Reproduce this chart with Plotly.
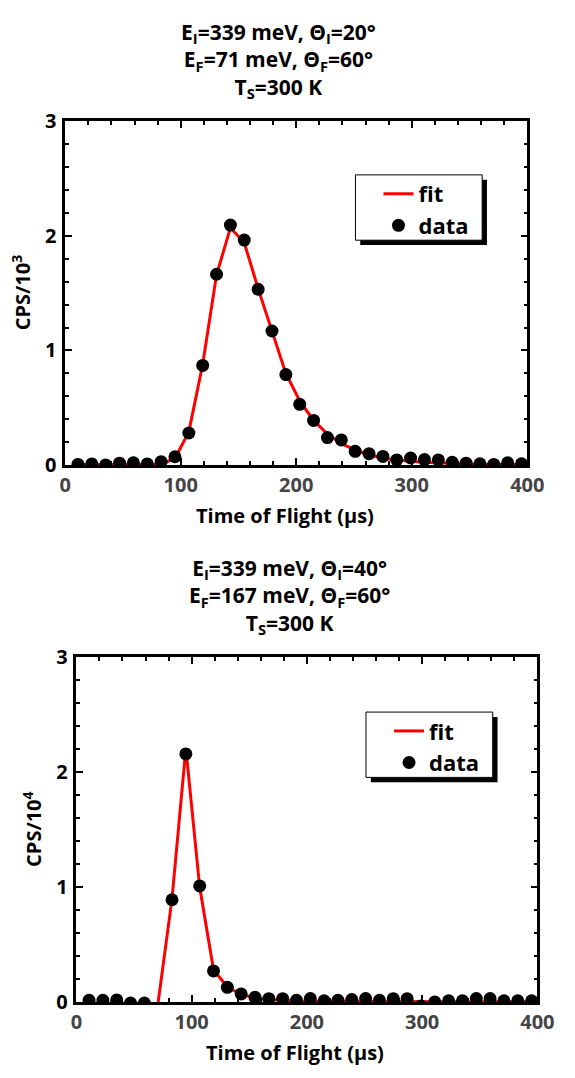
import plotly.graph_objects as go

W, H = 575, 1078

# ---------------- data ----------------
tof = [11, 23, 35, 47, 59, 71, 83, 95, 107, 119, 131, 143, 155, 167, 179, 191, 203,
       215, 227, 239, 251, 263, 275, 287, 299, 311, 323, 335, 347, 359, 371, 383, 395]

# top panel (CPS/10^3)
data_top = [0.006, 0.010, 0.002, 0.017, 0.020, 0.010, 0.030, 0.073, 0.28, 0.87, 1.665,
            2.094, 1.963, 1.534, 1.17, 0.79, 0.53, 0.39, 0.24, 0.22, 0.12, 0.10, 0.076,
            0.045, 0.062, 0.048, 0.045, 0.025, 0.017, 0.011, 0.006, 0.020, 0.011]
fit_top = [0.005, 0.005, 0.005, 0.005, 0.005, 0.005, 0.006, 0.06, 0.29, 0.88, 1.66,
           2.07, 1.94, 1.54, 1.16, 0.80, 0.56, 0.39, 0.27, 0.19, 0.13, 0.09, 0.06,
           0.045, 0.033, 0.024, 0.018, 0.013, 0.010, 0.008, 0.006, 0.005, 0.005]

# bottom panel (CPS/10^4)
data_bot = [0.014, 0.014, 0.017, -0.01, -0.01, -0.06, 0.89, 2.16, 1.01, 0.27, 0.127,
            0.07, 0.040, 0.028, 0.028, 0.014, 0.030, 0.010, 0.014, 0.020, 0.030, 0.014,
            0.028, 0.028, -0.035, 0.0, 0.010, 0.010, 0.030, 0.030, 0.010, 0.010, 0.010]
tof_fit_bot = [71, 83, 95, 107, 119, 131, 143, 155, 167, 179, 191, 203, 215, 227, 239,
               251, 263, 275, 287, 299, 311, 323, 335, 347, 359, 371, 383, 395]
fit_bot = [0.0, 0.90, 2.21, 1.00, 0.28, 0.13, 0.065, 0.035, 0.02, 0.012, 0.008, 0.006,
           0.005, 0.004, 0.004, 0.003, 0.003, 0.002, 0.002, 0.002, 0.002, 0.002, 0.001,
           0.001, 0.001, 0.001, 0.001, 0.001]

titles = ["E<sub>I</sub>=339 meV, Θ<sub>I</sub>=20°<br>E<sub>F</sub>=71 meV, Θ<sub>F</sub>=60°<br>T<sub>S</sub>=300 K",
          "E<sub>I</sub>=339 meV, Θ<sub>I</sub>=40°<br>E<sub>F</sub>=167 meV, Θ<sub>F</sub>=60°<br>T<sub>S</sub>=300 K"]
ylabels = ["CPS/10<sup>3</sup>", "CPS/10<sup>4</sup>"]
xlabel = "Time of Flight (μs)"

FONT = "Open Sans, DejaVu Sans, sans-serif"
RED = "#ff0000"


def px(x):
    return x / W


def py(y):
    return 1 - y / H


# panel pixel boxes: left, right, top, bottom
boxes = [(61.7, 543.0, 110.0, 462.7), (73.3, 553.5, 660.0, 1013.3)]
legend_boxes = [(364, 496, 165, 232), (375, 507, 716, 783)]

fig = go.Figure()

fig.add_trace(go.Scatter(x=tof, y=fit_top, mode="lines", name="fit",
                         line=dict(color=RED, width=3), xaxis="x", yaxis="y",
                         legend="legend", legendgroup="a"))
fig.add_trace(go.Scatter(x=tof, y=data_top, mode="markers", name="data",
                         marker=dict(color="black", size=13), xaxis="x", yaxis="y",
                         legend="legend", legendgroup="b"))
fig.add_trace(go.Scatter(x=tof_fit_bot, y=fit_bot, mode="lines", name="fit",
                         line=dict(color=RED, width=3), xaxis="x2", yaxis="y2",
                         legend="legend2", legendgroup="c"))
fig.add_trace(go.Scatter(x=tof, y=data_bot, mode="markers", name="data",
                         marker=dict(color="black", size=13), xaxis="x2", yaxis="y2",
                         legend="legend2", legendgroup="d"))

shapes = []
annotations = []
layout_axes = {}
for i, (l, r, t, b) in enumerate(boxes):
    sx = "" if i == 0 else "2"
    layout_axes["xaxis" + sx] = dict(
        domain=[px(l), px(r)], anchor="y" + sx, range=[0, 400],
        tickvals=[0, 100, 200, 300, 400], ticks="inside", ticklen=7, tickwidth=2,
        tickcolor="black", showline=True, linecolor="black", linewidth=2.5,
        mirror="allticks", showgrid=False, zeroline=False,
        minor=dict(dtick=20, ticks="inside", ticklen=4, tickwidth=2, tickcolor="black", showgrid=False),
        tickfont=dict(family=FONT, size=20, color="#444444", weight="bold"),
        fixedrange=True)
    layout_axes["yaxis" + sx] = dict(
        domain=[py(b), py(t)], anchor="x" + sx, range=[0, 3],
        tickvals=[0, 1, 2, 3], ticks="inside", ticklen=7, tickwidth=2,
        tickcolor="black", showline=True, linecolor="black", linewidth=2.5,
        mirror="allticks", showgrid=False, zeroline=False,
        minor=dict(dtick=0.2, ticks="inside", ticklen=4, tickwidth=2, tickcolor="black", showgrid=False),
        tickfont=dict(family=FONT, size=20, color="black", weight="bold"),
        ticklabelstandoff=2, fixedrange=True)

    # legend frame with drop shadow
    lx0, lx1, ly0, ly1 = legend_boxes[i]
    shapes.append(dict(type="rect", xref="paper", yref="paper",
                       x0=px(lx0 + 5), x1=px(lx1 + 5), y0=py(ly1 + 5), y1=py(ly0 + 5),
                       fillcolor="black", line=dict(width=0), layer="above"))
    shapes.append(dict(type="rect", xref="paper", yref="paper",
                       x0=px(lx0), x1=px(lx1), y0=py(ly1), y1=py(ly0),
                       fillcolor="white", line=dict(color="black", width=1), layer="above"))

    cx = (l + r) / 2
    annotations.append(dict(text=titles[i], xref="paper", yref="paper",
                            x=px(cx - 18), y=py(t - 108), xanchor="center", yanchor="top",
                            showarrow=False, align="center",
                            font=dict(family=FONT, size=21, color="black", weight="bold")))
    annotations.append(dict(text=xlabel, xref="paper", yref="paper",
                            x=px(cx - 12), y=py(b + 52), xanchor="center", yanchor="middle",
                            showarrow=False,
                            font=dict(family=FONT, size=20, color="black", weight="bold")))
    annotations.append(dict(text=ylabels[i], xref="paper", yref="paper",
                            x=px(l - 46), y=py((t + b) / 2), xanchor="center", yanchor="middle",
                            showarrow=False, textangle=-90,
                            font=dict(family=FONT, size=20, color="black", weight="bold")))

legend_common = dict(xanchor="left", yanchor="top", bgcolor="rgba(0,0,0,0)",
                     borderwidth=0, tracegroupgap=0,
                     font=dict(family=FONT, size=22, color="black", weight="bold"))
fig.update_layout(
    width=W, height=H, margin=dict(l=0, r=0, t=0, b=0),
    paper_bgcolor="white", plot_bgcolor="white", showlegend=True,
    legend=dict(x=px(legend_boxes[0][0] + 24), y=py(legend_boxes[0][2] - 2), **legend_common),
    legend2=dict(x=px(legend_boxes[1][0] + 24), y=py(legend_boxes[1][2] - 2), **legend_common),
    shapes=shapes, annotations=annotations, **layout_axes)

fig.write_html("out.html")
